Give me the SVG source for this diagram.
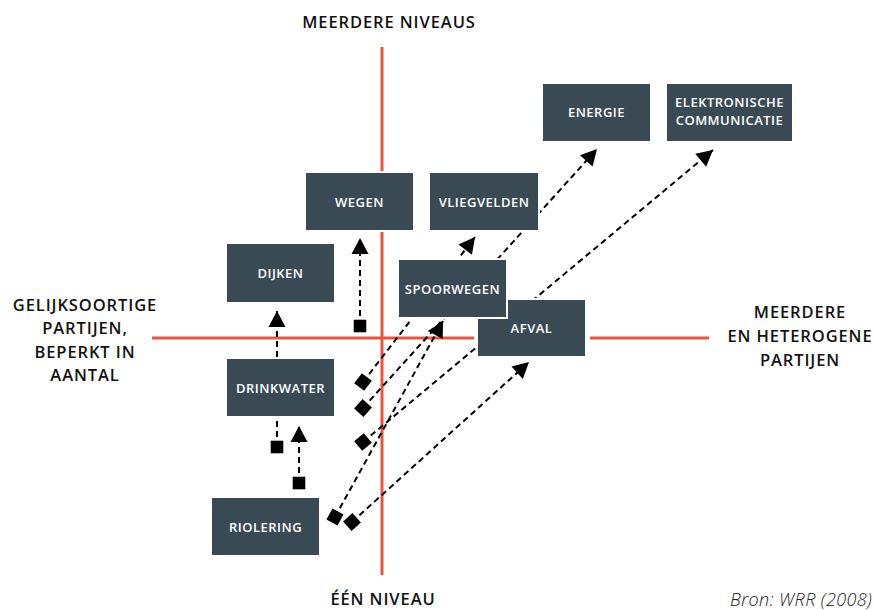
<svg xmlns="http://www.w3.org/2000/svg" width="876" height="610" viewBox="0 0 876 610">
<style>
.axis{stroke:#e9563d;stroke-width:3;fill:none}
.box rect{fill:#3a4a55;stroke:#fff;stroke-width:2}
.box text{fill:#fff;font-family:"Open Sans","Liberation Sans",sans-serif;font-size:13px;font-weight:600;text-anchor:middle;letter-spacing:0.5px}
.lbl{fill:#111;font-family:"Open Sans","Liberation Sans",sans-serif;font-size:16.5px;font-weight:600;text-anchor:middle;letter-spacing:0.9px}
.src{fill:#222;font-family:"Open Sans","Liberation Sans",sans-serif;font-size:18px;font-style:italic;font-weight:300;letter-spacing:0.4px}
.con line{stroke:#000;stroke-width:2;stroke-dasharray:6 4;marker-start:url(#sq);marker-end:url(#arr)}
</style>
<defs>
<marker id="arr" markerUnits="userSpaceOnUse" markerWidth="20" markerHeight="20" viewBox="0 -10 20 20" refX="16" refY="0" orient="auto" overflow="visible"><path d="M0,-8.5 L16,0 L0,8.5 Z" fill="#000"/></marker>
<marker id="sq" markerUnits="userSpaceOnUse" markerWidth="14" markerHeight="14" viewBox="-7 -7 14 14" refX="0" refY="0" orient="auto" overflow="visible"><rect x="-6.3" y="-6.3" width="12.6" height="12.6" fill="#000"/></marker>
</defs>
<g id="axes">
<line class="axis" x1="382" y1="47" x2="382" y2="575"/>
<line class="axis" x1="152" y1="338" x2="474" y2="338"/>
<line class="axis" x1="590" y1="338" x2="709" y2="338"/>
</g>
<g id="labels">
<text class="lbl" x="389" y="28">MEERDERE NIVEAUS</text>
<text class="lbl" x="383" y="605">ÉÉN NIVEAU</text>
<text class="lbl" x="85" y="311">GELIJKSOORTIGE</text>
<text class="lbl" x="85" y="334">PARTIJEN,</text>
<text class="lbl" x="85" y="358">BEPERKT IN</text>
<text class="lbl" x="85" y="381">AANTAL</text>
<text class="lbl" x="800" y="318">MEERDERE</text>
<text class="lbl" x="800" y="342">EN HETEROGENE</text>
<text class="lbl" x="800" y="366">PARTIJEN</text>
<text class="src" x="730" y="606">Bron: WRR (2008)</text>
</g>
<g id="connectors" class="con">
<line x1="277" y1="447" x2="277" y2="311"/>
<line x1="360" y1="326" x2="360" y2="238"/>
<line x1="299" y1="483" x2="299" y2="426"/>
<line x1="363" y1="382" x2="475" y2="237"/>
<line x1="363" y1="408" x2="597" y2="149"/>
<line x1="363" y1="442" x2="713" y2="150"/>
<line x1="335" y1="517" x2="443" y2="321"/>
<line x1="352" y1="522" x2="529" y2="362"/>
</g>
<g id="wegen" class="box"><rect x="305" y="172" width="109" height="59"/><text x="359.5" y="206.5">WEGEN</text></g>
<g id="vliegvelden" class="box"><rect x="429" y="172" width="110" height="59"/><text x="484" y="206.5">VLIEGVELDEN</text></g>
<g id="dijken" class="box"><rect x="226" y="243" width="109" height="60"/><text x="280.5" y="277.5">DIJKEN</text></g>
<g id="afval" class="box"><rect x="477" y="299" width="109" height="58"/><text x="531.5" y="332.5">AFVAL</text></g>
<g id="spoorwegen" class="box"><rect x="398" y="259" width="109" height="59"/><text x="452.5" y="293.5">SPOORWEGEN</text></g>
<g id="energie" class="box"><rect x="542" y="83" width="109" height="59"/><text x="596.5" y="117">ENERGIE</text></g>
<g id="elektronische" class="box"><rect x="666" y="83" width="127" height="59"/><text x="729.5" y="106.5">ELEKTRONISCHE</text><text x="729.5" y="125">COMMUNICATIE</text></g>
<g id="drinkwater" class="box"><rect x="226" y="358" width="109" height="59"/><text x="280.5" y="392.5">DRINKWATER</text></g>
<g id="riolering" class="box"><rect x="211" y="497" width="109" height="59"/><text x="265.5" y="531.5">RIOLERING</text></g>
</svg>
